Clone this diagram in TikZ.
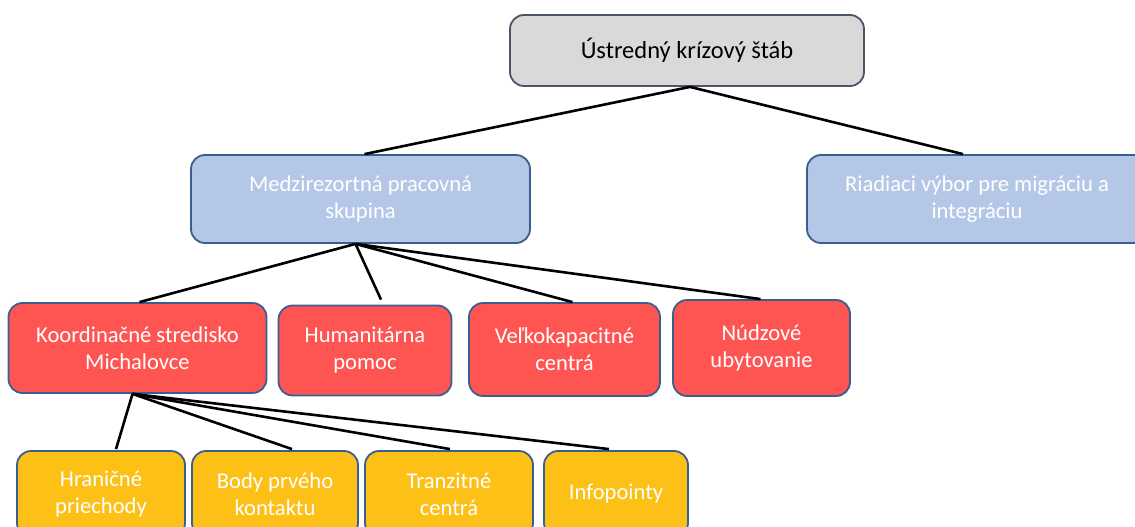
\documentclass[tikz,border=0pt]{standalone}
\usepackage{fontspec}
\setmainfont{Carlito}
\definecolor{greyfill}{HTML}{D9D9D9}
\definecolor{greyline}{HTML}{4A5568}
\definecolor{bluefill}{HTML}{B4C7E7}
\definecolor{boxline}{HTML}{3B5E91}
\definecolor{redfill}{HTML}{FF5552}
\definecolor{yellowfill}{HTML}{FCC016}
\begin{document}
\begin{tikzpicture}[x=1pt,y=-1pt,
  box/.style={rectangle, rounded corners=14pt, line width=1.8pt, draw=boxline,
    align=center, inner sep=0pt, font=\fontsize{22.6}{27}\selectfont, text=white},
  topbox/.style={box, fill=greyfill, draw=greyline, text=black, font=\fontsize{24.5}{29}\selectfont},
  bluebox/.style={box, fill=bluefill},
  redbox/.style={box, fill=redfill},
  yellowbox/.style={box, fill=yellowfill},
  conn/.style={line width=2.6pt, black}]
\useasboundingbox (0,0) rectangle (1135,527);
\fill[white] (0,0) rectangle (1135,527);
\clip (0,0) rectangle (1135,527);

% top
\node[topbox, minimum width=354pt, minimum height=71pt] (top) at (687,50.5) {Ústredný krízový štáb};
% second level
\node[bluebox, minimum width=339pt, minimum height=88pt] (medz) at (360.5,199) {Medzirezortná pracovná\\skupina};
\node[bluebox, minimum width=340pt, minimum height=88pt] (riad) at (977,199) {Riadiaci výbor pre migráciu a\\integráciu};
% third level
\node[redbox, minimum width=258pt, minimum height=90pt] (koord) at (137.5,348) {Koordinačné stredisko\\Michalovce};
\node[redbox, minimum width=173pt, minimum height=90pt] (hum) at (365,350.5) {Humanitárna\\pomoc};
\node[redbox, minimum width=191pt, minimum height=93pt] (velk) at (564.5,349.5) {Veľkokapacitné\\centrá};
\node[redbox, minimum width=177pt, minimum height=96pt] (nudz) at (761.5,348) {Núdzové\\ubytovanie};
% fourth level
\node[yellowbox, minimum width=168pt, minimum height=86pt] (hran) at (101,494) {Hraničné\\priechody};
\node[yellowbox, minimum width=166pt, minimum height=86pt] (body) at (275,494) {Body prvého\\kontaktu};
\node[yellowbox, minimum width=168pt, minimum height=86pt] (tranz) at (449,494) {Tranzitné\\centrá};
\node[yellowbox, minimum width=144pt, minimum height=86pt] (info) at (616,494) {Infopointy};

% connectors
\draw[conn] ([xshift=3pt]top.south) -- ([xshift=4pt]medz.north);
\draw[conn] ([xshift=3pt]top.south) -- ([xshift=-14pt]riad.north);

\draw[conn] ([xshift=-5pt]medz.south) -- ([xshift=2pt]koord.north);
\draw[conn] ([xshift=-5pt]medz.south) -- ([xshift=16pt,yshift=5pt]hum.north);
\draw[conn] ([xshift=-5pt]medz.south) -- ([xshift=8pt]velk.north);
\draw[conn] ([xshift=-5pt]medz.south) -- ([xshift=-1pt]nudz.north);

\draw[conn] ([xshift=-5pt]koord.south) -- ([xshift=15pt,yshift=1pt]hran.north);
\draw[conn] ([xshift=-5pt]koord.south) -- ([xshift=17pt,yshift=1pt]body.north);
\draw[conn] ([xshift=-5pt]koord.south) -- ([xshift=1pt,yshift=1pt]tranz.north);
\draw[conn] ([xshift=-5pt]koord.south) -- ([xshift=-7pt,yshift=1pt]info.north);
\end{tikzpicture}
\end{document}
